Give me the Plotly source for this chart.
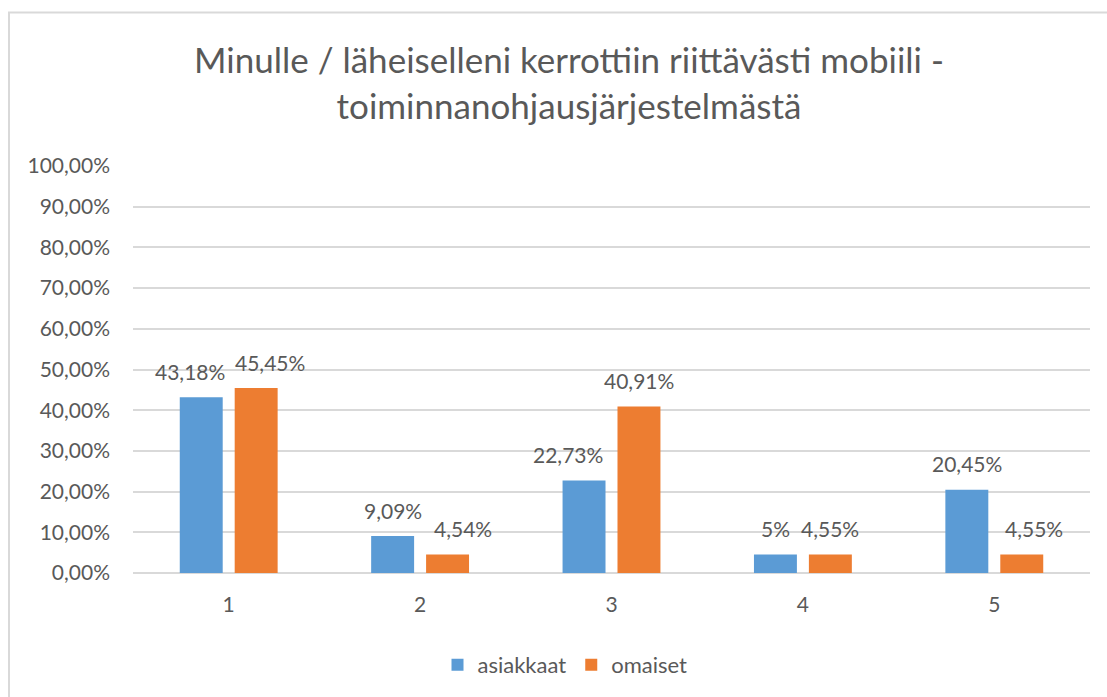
import plotly.graph_objects as go

categories = ["1", "2", "3", "4", "5"]
asiakkaat = [43.18, 9.09, 22.73, 4.55, 20.45]
omaiset = [45.45, 4.54, 40.91, 4.55, 4.55]
asiakkaat_labels = ["43,18%", "9,09%", "22,73%", "5%", "20,45%"]
omaiset_labels = ["45,45%", "4,54%", "40,91%", "4,55%", "4,55%"]
tick_vals = [0, 10, 20, 30, 40, 50, 60, 70, 80, 90, 100]
tick_text = ["0,00%", "10,00%", "20,00%", "30,00%", "40,00%", "50,00%",
             "60,00%", "70,00%", "80,00%", "90,00%", "100,00%"]

# label nudges (pixels, relative to bar centre) to mimic the original layout
asiakkaat_nudge = [-11, 0, -16, 0, 0]
omaiset_nudge = [14, 15, 0, 0, 12]

FONT = "Lato"
TXT = "#595959"
BAR_OFFSET = 27.5

fig = go.Figure()
fig.add_trace(go.Bar(x=categories, y=asiakkaat, name="asiakkaat",
                     marker=dict(color="#5B9BD5", line=dict(width=0))))
fig.add_trace(go.Bar(x=categories, y=omaiset, name="omaiset",
                     marker=dict(color="#ED7D31", line=dict(width=0))))

annotations = []
for i, (val, lab, nd) in enumerate(zip(asiakkaat, asiakkaat_labels, asiakkaat_nudge)):
    annotations.append(dict(x=i, y=val, xref="x", yref="y", text=lab, showarrow=False,
                            xshift=-BAR_OFFSET + nd, yshift=26, yanchor="middle",
                            font=dict(family=FONT, size=21, color=TXT)))
for i, (val, lab, nd) in enumerate(zip(omaiset, omaiset_labels, omaiset_nudge)):
    annotations.append(dict(x=i, y=val, xref="x", yref="y", text=lab, showarrow=False,
                            xshift=BAR_OFFSET + nd, yshift=26, yanchor="middle",
                            font=dict(family=FONT, size=21, color=TXT)))

L, R, T, B = 133, 17, 166, 123
W, H = 1107, 697
pw, ph = W - L - R, H - T - B

def px(x):
    return (x - L) / pw

def py(y):
    return (H - B - y) / ph

fig.update_layout(
    width=W, height=H,
    margin=dict(l=L, r=R, t=T, b=B),
    paper_bgcolor="white", plot_bgcolor="white",
    barmode="group", bargap=0.426, bargroupgap=0.218,
    font=dict(family=FONT, color=TXT),
    title=dict(text="Minulle / läheiselleni kerrottiin riittävästi mobiili -<br>toiminnanohjausjärjestelmästä",
               x=px(569), xref="paper", xanchor="center",
               y=1 - 73 / H, yanchor="middle",
               font=dict(family=FONT, size=35, color=TXT)),
    showlegend=True,
    legend=dict(orientation="h", x=px(565), xanchor="center", y=py(665), yanchor="middle",
                font=dict(family=FONT, size=22, color=TXT), itemwidth=30,
                bgcolor="rgba(0,0,0,0)"),
    xaxis=dict(type="category", range=[-0.5, len(categories) - 0.5],
               showgrid=False, showline=False, ticks="", zeroline=False,
               ticklabelstandoff=17,
               tickfont=dict(family=FONT, size=21, color=TXT)),
    yaxis=dict(range=[0, 100], tickvals=tick_vals, ticktext=tick_text,
               showgrid=True, gridcolor="#D9D9D9", gridwidth=1.5,
               zeroline=True, zerolinecolor="#D9D9D9", zerolinewidth=1.5,
               showline=False, ticks="", ticklabelstandoff=22,
               tickfont=dict(family=FONT, size=21, color=TXT)),
    annotations=annotations,
    shapes=[dict(type="rect", xref="paper", yref="paper",
                 x0=px(9), x1=px(1120), y0=py(12), y1=py(720),
                 line=dict(color="#D9D9D9", width=2), fillcolor="rgba(0,0,0,0)", layer="below")],
)

fig.write_html("out.html", post_script="document.body.style.margin='0';",
               config={"displayModeBar": False})
